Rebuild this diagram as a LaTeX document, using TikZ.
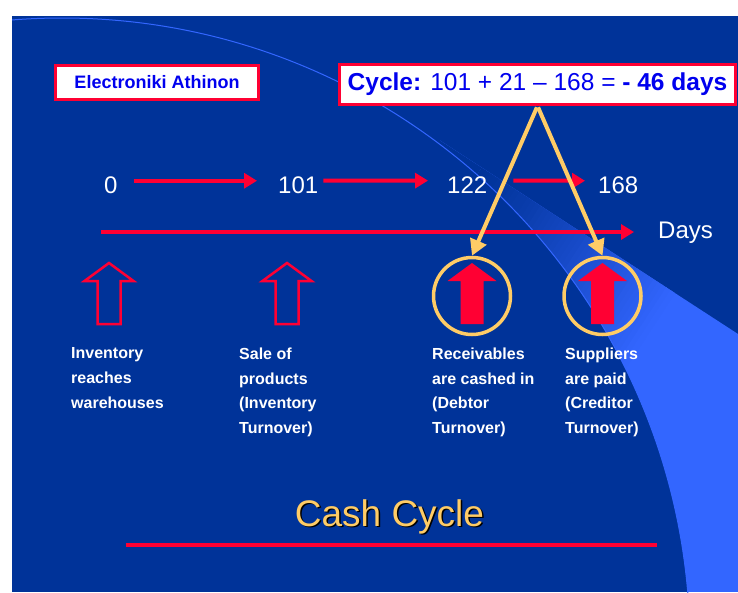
\documentclass[tikz,border=0pt]{standalone}
\usepackage{fontspec}
\setmainfont{Liberation Sans}
\usetikzlibrary{arrows.meta,calc}
\definecolor{slidebg}{RGB}{0,51,153}
\definecolor{lightb}{RGB}{51,102,255}
\definecolor{redc}{RGB}{255,0,51}
\definecolor{gold}{RGB}{255,204,102}
\definecolor{txtblue}{RGB}{0,0,238}
\newcommand\myfs[2]{\fontsize{#1}{#2}\selectfont}
\newcommand\blockarrow[2]{%
  \path[#2] (#1-11.5,324) -- (#1-11.5,281) -- (#1-24.5,281) -- (#1,263) -- (#1+24.5,281) -- (#1+11.5,281) -- (#1+11.5,324) -- cycle;}
\tikzset{
  boxst/.style={draw=redc, line width=3pt, fill=white, text=txtblue, inner sep=0pt},
  num/.style={text=white, font=\myfs{24}{28}, inner sep=0pt, anchor=base west},
  redarr/.style={draw=redc, line width=4pt, -{Triangle[width=15pt,length=13pt]}},
  goldarr/.style={draw=gold, line width=4pt, -{Triangle[width=17pt,length=16pt]}, shorten <=1.5pt},
  ring/.style={circle, draw=gold, line width=3.5pt, minimum size=77pt, inner sep=0pt},
  lbl/.style={anchor=north west, align=left, text=white, font=\bfseries\myfs{16}{24.7}, inner sep=0pt},
  ttlst/.style={anchor=base, font=\myfs{37}{40}, inner sep=0pt}
}
\begin{document}
\begin{tikzpicture}[x=1pt,y=-1pt]
\useasboundingbox (0,0) rectangle (738,592);
\fill[white] (0,0) rectangle (738,592);
\fill[slidebg] (12,16) rectangle (738,592);
\begin{scope}
  \clip (12,16) rectangle (738,592);
  \begin{scope}[even odd rule]
    \clip (12,16) rectangle (738,592) (62,646) circle (628pt);
    \clip (440,140.5) -- (738,334) -- (738,592) -- (440,592) -- cycle;
    \fill[lightb] (430,130) rectangle (738,592);
    \fill[slidebg] ($(480,170)+(-250*0.837,-250*0.547)+(-164,251)$) -- ($(480,170)+(-250*0.837,-250*0.547)+(164,-251)$) -- ($(480,170)+(164,-251)$) -- ($(480,170)+(-164,251)$) -- cycle;
    \foreach \i in {0,...,45}{
      \pgfmathsetmacro\ta{\i*5}
      \pgfmathsetmacro\tb{\i*5+5.6}
      \pgfmathtruncatemacro\p{100*((\i+0.5)/46)^1.2}
      \fill[lightb!\p!slidebg] ($(480,170)+(\ta*0.837,\ta*0.547)+(-164,251)$) -- ($(480,170)+(\ta*0.837,\ta*0.547)+(164,-251)$) -- ($(480,170)+(\tb*0.837,\tb*0.547)+(164,-251)$) -- ($(480,170)+(\tb*0.837,\tb*0.547)+(-164,251)$) -- cycle;
    }
  \end{scope}
  \draw[lightb, line width=1pt] (62,646) circle (628pt);
\end{scope}

% boxes
\node[boxst, font=\bfseries\myfs{18}{22}, minimum width=203pt, minimum height=34pt] (elec) at (157,82.5) {Electroniki Athinon};
\node[boxst, font=\myfs{24.5}{28}, minimum width=396pt, minimum height=40pt] (cyc) at (537.5,84.5) {\textbf{Cycle:} 101 + 21 – 168 = \textbf{- 46 days}};

% numbers
\node[num] (n0) at (104,193) {0};
\node[num] (n101) at (278,193) {101};
\node[num] (n122) at (447,193) {122};
\node[num] (n168) at (598,193) {168};
\node[num] (days) at (658,238.5) {Days};
\coordinate (ax0) at (101,232);

\draw[redarr] ([xshift=16pt,yshift=4pt]n0.east) -- ([xshift=-21pt,yshift=4pt]n101.west);
\draw[redarr] ([xshift=5pt,yshift=4pt]n101.east) -- ([xshift=-19pt,yshift=4pt]n122.west);
\draw[redarr] ([xshift=26pt,yshift=4pt]n122.east) -- ([xshift=-13pt,yshift=4pt]n168.west);
\draw[redarr] (ax0) -- ([xshift=-24pt]days.west |- ax0);

% block arrows
\blockarrow{109}{draw=redc, line width=2.5pt, line join=miter}
\blockarrow{287}{draw=redc, line width=2.5pt, line join=miter}
\blockarrow{472}{fill=redc}
\blockarrow{602.5}{fill=redc}

% rings
\node[ring] (c1) at (472,296) {};
\node[ring] (c2) at (602.5,296) {};

\draw[goldarr] (cyc.south) -- (c1.north);
\draw[goldarr] (cyc.south) -- (c2.north);

% labels
\node[lbl] (l1) at (71,347.5) {Inventory\\reaches\\warehouses};
\node[lbl] (l2) at (239,347.5) {Sale of\\products\\(Inventory\\Turnover)};
\node[lbl] (l3) at (432,347.5) {Receivables\\are cashed in\\(Debtor\\Turnover)};
\node[lbl] (l4) at (565,347.5) {Suppliers\\are paid\\(Creditor\\Turnover)};

% title
\node[ttlst, text=black] (ttlshadow) at (391,527.5) {Cash Cycle};
\node[ttlst, text=gold] (ttl) at (389.5,526) {Cash Cycle};
\draw[redc, line width=4.5pt] (126,545) -- (657,545);
\end{tikzpicture}
\end{document}
